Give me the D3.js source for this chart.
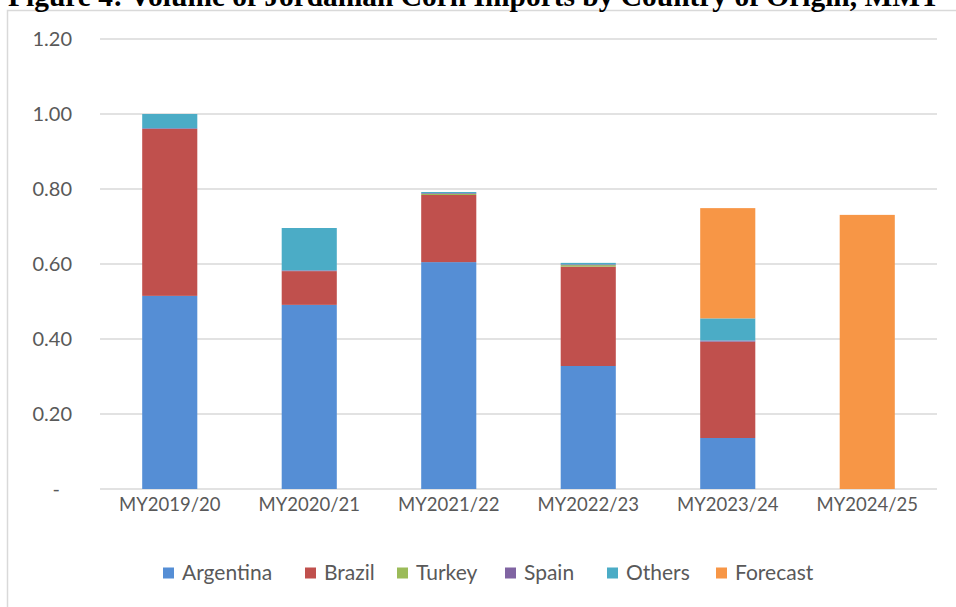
<!DOCTYPE html>
<html>
<head>
<meta charset="utf-8">
<script src="https://cdn.jsdelivr.net/npm/d3@7"></script>
<style>
  html, body { margin: 0; padding: 0; background: #fff; }
  svg { display: block; }
</style>
</head>
<body>
<svg id="chart" width="956" height="607"></svg>
<script>
const title = "Figure 4: Volume of Jordanian Corn Imports by Country of Origin, MMT";
const categories = ["MY2019/20", "MY2020/21", "MY2021/22", "MY2022/23", "MY2023/24", "MY2024/25"];
const seriesNames = ["Argentina", "Brazil", "Turkey", "Spain", "Others", "Forecast"];
const argentina = [0.515, 0.491, 0.605, 0.328, 0.136, 0];
const brazil    = [0.445, 0.090, 0.179, 0.265, 0.257, 0];
const turkey    = [0.000, 0.000, 0.003, 0.004, 0.000, 0];
const spain     = [0.002, 0.002, 0.002, 0.002, 0.003, 0];
const others    = [0.038, 0.113, 0.003, 0.004, 0.059, 0];
const forecast  = [0, 0, 0, 0, 0.294, 0.731];
const yTicks = [0, 0.2, 0.4, 0.6, 0.8, 1.0, 1.2];
const colors = ["#558ED5", "#C0504D", "#9BBB59", "#8064A2", "#4BACC6", "#F79646"];

const seriesValues = [argentina, brazil, turkey, spain, others, forecast];
const rows = categories.map((c, i) => {
  const r = { cat: c };
  seriesNames.forEach((s, j) => r[s] = seriesValues[j][i]);
  return r;
});

const svg = d3.select("#chart");
const font = "Lato, 'Open Sans', sans-serif";
const textColor = "#595959";

// outer chart border (extends past the picture edges)
svg.append("rect")
  .attr("x", 7.5).attr("y", 10.5)
  .attr("width", 1000).attr("height", 1000)
  .attr("fill", "none").attr("stroke", "#D9D9D9").attr("stroke-width", 1.5);

// title, cropped at top
const t = svg.append("text")
  .attr("x", 8).attr("y", 6)
  .attr("font-family", "'Liberation Serif', 'Times New Roman', serif")
  .attr("font-weight", "bold")
  .attr("font-size", 24)
  .attr("fill", "#000")
  .text(title);
const w = t.node().getComputedTextLength();
t.attr("font-size", 24 * 932 / w);

const x = d3.scaleBand().domain(categories).range([100, 937]).paddingInner(0.605).paddingOuter(0.3025);
const y = d3.scaleLinear().domain([0, 1.2]).range([489, 39]);

// gridlines
svg.append("g").selectAll("line").data(yTicks).join("line")
  .attr("x1", 100).attr("x2", 937)
  .attr("y1", d => y(d)).attr("y2", d => y(d))
  .attr("stroke", "#D9D9D9").attr("stroke-width", 1.5);

// y labels
svg.append("g").selectAll("text").data(yTicks).join("text")
  .attr("x", d => d === 0 ? 60 : 72)
  .attr("y", d => y(d))
  .attr("dy", "0.35em")
  .attr("text-anchor", "end")
  .attr("font-family", font).attr("font-size", 20)
  .attr("fill", textColor)
  .text(d => d === 0 ? "-" : d3.format(".2f")(d));

// stacked bars
const stack = d3.stack().keys(seriesNames)(rows);
svg.append("g").selectAll("g").data(stack).join("g")
  .attr("fill", (d, i) => colors[i])
  .selectAll("rect").data(d => d).join("rect")
  .attr("x", d => x(d.data.cat))
  .attr("width", x.bandwidth())
  .attr("y", d => y(d[1]))
  .attr("height", d => Math.max(0, y(d[0]) - y(d[1])));

// x labels
svg.append("g").selectAll("text").data(categories).join("text")
  .attr("x", d => x(d) + x.bandwidth() / 2)
  .attr("y", 498)
  .attr("dy", "0.71em")
  .attr("text-anchor", "middle")
  .attr("font-family", font).attr("font-size", 18.5)
  .attr("fill", textColor)
  .text(d => d);

// legend
const legendX = [163, 305, 397, 505, 607, 716];
const lg = svg.append("g").selectAll("g").data(seriesNames).join("g")
  .attr("transform", (d, i) => `translate(${legendX[i]},573)`);
lg.append("rect").attr("x", 0).attr("y", -5.5).attr("width", 11).attr("height", 11)
  .attr("fill", (d, i) => colors[i]);
lg.append("text").attr("x", 19).attr("y", 0).attr("dy", "0.35em")
  .attr("font-family", font).attr("font-size", 21)
  .attr("fill", textColor)
  .text(d => d);
</script>
</body>
</html>
